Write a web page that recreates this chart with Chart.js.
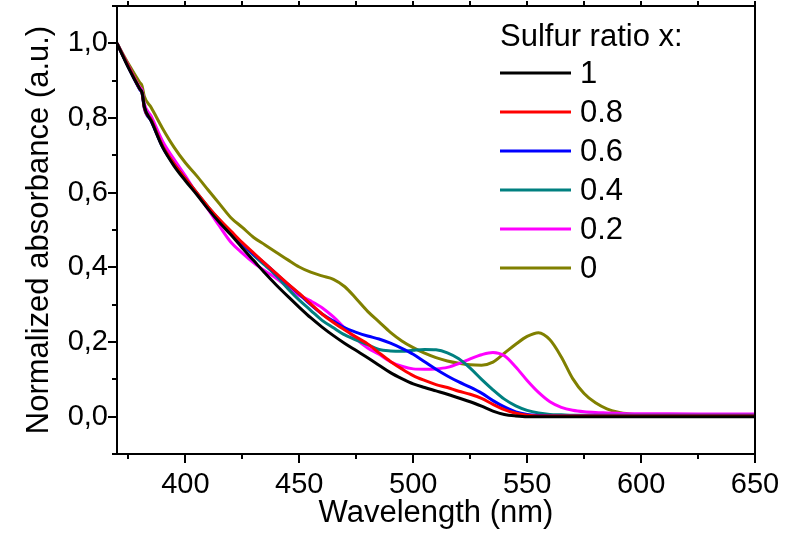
<!DOCTYPE html>
<html>
<head>
<meta charset="utf-8">
<script src="https://cdn.jsdelivr.net/npm/chart.js@4.4.0/dist/chart.umd.min.js"></script>
<style>
	html, body { margin: 0; padding: 0; background: #fff; }
	#wrap { width: 796px; height: 538px; }
</style>
</head>
<body>
<div id="wrap"><canvas id="absChart" width="796" height="538"></canvas></div>
<script>
// wavelength grid (nm)
const wavelength = [370, 375, 380, 381, 382, 385, 390, 395, 400, 405, 410, 415, 420, 425, 430, 435, 440, 445, 450, 455,
	460, 465, 470, 475, 480, 485, 490, 495, 500, 505, 510, 515, 520, 525, 530, 535, 540, 545, 550, 555,
	560, 565, 570, 575, 580, 585, 590, 595, 600, 625, 650];

const seriesLabels = ['1', '0.8', '0.6', '0.4', '0.2', '0'];
const seriesColors = ['#000000', '#ff0000', '#0000ff', '#008080', '#ff00ff', '#808000'];

const absX10 = [1.000, 0.935, 0.878, 0.868, 0.830, 0.792, 0.722, 0.672, 0.632, 0.595, 0.556, 0.520, 0.487, 0.452, 0.418, 0.384, 0.352, 0.322, 0.293, 0.265,
	0.240, 0.217, 0.196, 0.177, 0.158, 0.138, 0.118, 0.102, 0.088, 0.078, 0.069, 0.060, 0.050, 0.040, 0.028, 0.015, 0.006, 0.002, 0.000, 0.000,
	0.000, 0.000, 0.000, 0.000, 0.000, 0.000, 0.000, 0.000, 0.000, 0.000, 0.000];
const absX08 = [1.000, 0.938, 0.878, 0.868, 0.828, 0.795, 0.725, 0.678, 0.638, 0.600, 0.562, 0.528, 0.497, 0.466, 0.438, 0.410, 0.383, 0.356, 0.330, 0.302,
	0.275, 0.252, 0.232, 0.213, 0.195, 0.171, 0.148, 0.128, 0.110, 0.097, 0.086, 0.078, 0.068, 0.060, 0.049, 0.033, 0.019, 0.009, 0.004, 0.002,
	0.002, 0.002, 0.002, 0.002, 0.002, 0.002, 0.002, 0.002, 0.002, 0.002, 0.002];
const absX06 = [1.000, 0.936, 0.876, 0.866, 0.826, 0.792, 0.722, 0.675, 0.636, 0.598, 0.560, 0.525, 0.494, 0.463, 0.435, 0.410, 0.382, 0.355, 0.328, 0.300,
	0.275, 0.256, 0.238, 0.226, 0.216, 0.208, 0.197, 0.183, 0.167, 0.147, 0.127, 0.109, 0.093, 0.079, 0.063, 0.043, 0.026, 0.013, 0.006, 0.003,
	0.002, 0.002, 0.002, 0.002, 0.002, 0.002, 0.002, 0.002, 0.002, 0.002, 0.002];
const absX04 = [1.000, 0.937, 0.877, 0.868, 0.830, 0.795, 0.724, 0.678, 0.638, 0.600, 0.562, 0.527, 0.495, 0.462, 0.432, 0.405, 0.377, 0.343, 0.312, 0.285,
	0.258, 0.238, 0.219, 0.205, 0.193, 0.180, 0.176, 0.175, 0.178, 0.180, 0.179, 0.171, 0.155, 0.130, 0.100, 0.072, 0.047, 0.029, 0.017, 0.010,
	0.006, 0.005, 0.004, 0.004, 0.004, 0.004, 0.004, 0.004, 0.004, 0.004, 0.004];
const absX02 = [1.000, 0.940, 0.882, 0.874, 0.838, 0.805, 0.738, 0.690, 0.645, 0.598, 0.555, 0.510, 0.467, 0.438, 0.412, 0.390, 0.370, 0.346, 0.325, 0.310,
	0.292, 0.267, 0.237, 0.208, 0.184, 0.167, 0.147, 0.135, 0.128, 0.127, 0.128, 0.132, 0.142, 0.155, 0.166, 0.172, 0.163, 0.133, 0.097, 0.065,
	0.040, 0.025, 0.017, 0.013, 0.011, 0.010, 0.009, 0.008, 0.008, 0.007, 0.007];
const absX00 = [1.000, 0.945, 0.895, 0.886, 0.858, 0.828, 0.772, 0.722, 0.680, 0.645, 0.607, 0.570, 0.533, 0.507, 0.480, 0.460, 0.440, 0.420, 0.401, 0.387,
	0.377, 0.368, 0.348, 0.316, 0.282, 0.254, 0.226, 0.203, 0.185, 0.170, 0.158, 0.149, 0.143, 0.139, 0.138, 0.146, 0.170, 0.194, 0.215, 0.225,
	0.206, 0.160, 0.102, 0.062, 0.037, 0.021, 0.012, 0.007, 0.004, 0.002, 0.002];

const seriesValues = [absX10, absX08, absX06, absX04, absX02, absX00];

// axis ticks
const xMajorTicks = [400, 450, 500, 550, 600, 650];
const xMinorTicks = [375, 425, 475, 525, 575, 625];
const yMajorTicks = [0.0, 0.2, 0.4, 0.6, 0.8, 1.0];
const yMinorTicks = [-0.1, 0.1, 0.3, 0.5, 0.7, 0.9, 1.1];

const FONT = "'Liberation Sans', Arial, sans-serif";

const datasets = seriesValues.map((vals, i) => ({
	label: seriesLabels[i],
	data: wavelength.map((w, j) => ({ x: w, y: vals[j] })),
	borderColor: seriesColors[i],
	backgroundColor: seriesColors[i],
	borderWidth: 3,
	pointRadius: 0,
	fill: false,
	cubicInterpolationMode: 'monotone',
}));

// frame + major/minor tick marks, drawn from the scales
const framePlugin = {
	id: 'frame',
	afterDraw(chart) {
		const { ctx, chartArea: a, scales } = chart;
		const xs = scales.x, ys = scales.y;
		ctx.save();
		ctx.strokeStyle = '#000';
		ctx.lineWidth = 2;
		ctx.strokeRect(a.left, a.top, a.right - a.left, a.bottom - a.top);
		ctx.beginPath();
		const tick = (list, len) => {
			list.forEach(v => {
				const px = Math.round(xs.getPixelForValue(v));
				ctx.moveTo(px, a.bottom);
				ctx.lineTo(px, a.bottom + len);
				ctx.moveTo(px, a.top);
				ctx.lineTo(px, a.top - Math.min(len, 5));
			});
		};
		tick(xMajorTicks, 9);
		tick(xMinorTicks, 5);
		yMajorTicks.forEach(v => {
			const py = Math.round(ys.getPixelForValue(v));
			ctx.moveTo(a.left, py);
			ctx.lineTo(a.left - 9, py);
		});
		yMinorTicks.forEach(v => {
			const py = Math.round(ys.getPixelForValue(v));
			ctx.moveTo(a.left, py);
			ctx.lineTo(a.left - 5, py);
		});
		ctx.stroke();
		ctx.restore();
	}
};

// legend inside the plot, built from the datasets
const legendPlugin = {
	id: 'insideLegend',
	afterDraw(chart) {
		const ctx = chart.ctx;
		const x0 = 500, lineLen = 71, textX = 580, titleY = 37, firstY = 73, step = 39;
		ctx.save();
		ctx.fillStyle = '#000';
		ctx.font = '31px ' + FONT;
		ctx.textBaseline = 'middle';
		ctx.textAlign = 'left';
		ctx.fillText('Sulfur ratio x:', x0, titleY);
		chart.data.datasets.forEach((ds, i) => {
			const y = firstY + i * step;
			ctx.strokeStyle = ds.borderColor;
			ctx.lineWidth = 3;
			ctx.beginPath();
			ctx.moveTo(x0, y);
			ctx.lineTo(x0 + lineLen, y);
			ctx.stroke();
			ctx.fillStyle = '#000';
			ctx.fillText(ds.label, textX, y + 1);
		});
		ctx.restore();
	}
};

new Chart(document.getElementById('absChart'), {
	type: 'line',
	data: { datasets },
	options: {
		responsive: false,
		animation: false,
		layout: { padding: { top: 6, right: 41, left: 0, bottom: 0 } },
		plugins: {
			legend: { display: false },
			tooltip: { enabled: false },
		},
		scales: {
			x: {
				type: 'linear',
				min: 370,
				max: 650,
				grid: { display: false, drawTicks: false },
				border: { display: false },
				afterBuildTicks: s => { s.ticks = xMajorTicks.map(v => ({ value: v })); },
				afterFit: s => { s.height = 84; s.paddingLeft = 0; },
				ticks: {
					color: '#000',
					font: { family: FONT, size: 29 },
					padding: 14,
					maxRotation: 0,
					autoSkip: false,
				},
				title: {
					display: true,
					text: 'Wavelength (nm)',
					color: '#000',
					font: { family: FONT, size: 31 },
					padding: { top: 0, bottom: 6 },
				},
			},
			y: {
				min: -0.1,
				max: 1.1,
				grid: { display: false, drawTicks: false },
				border: { display: false },
				afterBuildTicks: s => { s.ticks = yMajorTicks.map(v => ({ value: v })); },
				afterFit: s => { s.width = 117; s.paddingTop = 0; s.paddingBottom = 0; },
				ticks: {
					color: '#000',
					font: { family: FONT, size: 29 },
					padding: 9,
					callback: v => v.toFixed(1).replace('.', ','),
				},
				title: {
					display: true,
					text: 'Normalized absorbance (a.u.)',
					color: '#000',
					font: { family: FONT, size: 31 },
					padding: { top: 21, bottom: 0 },
				},
			},
		},
	},
	plugins: [framePlugin, legendPlugin],
});
</script>
</body>
</html>
